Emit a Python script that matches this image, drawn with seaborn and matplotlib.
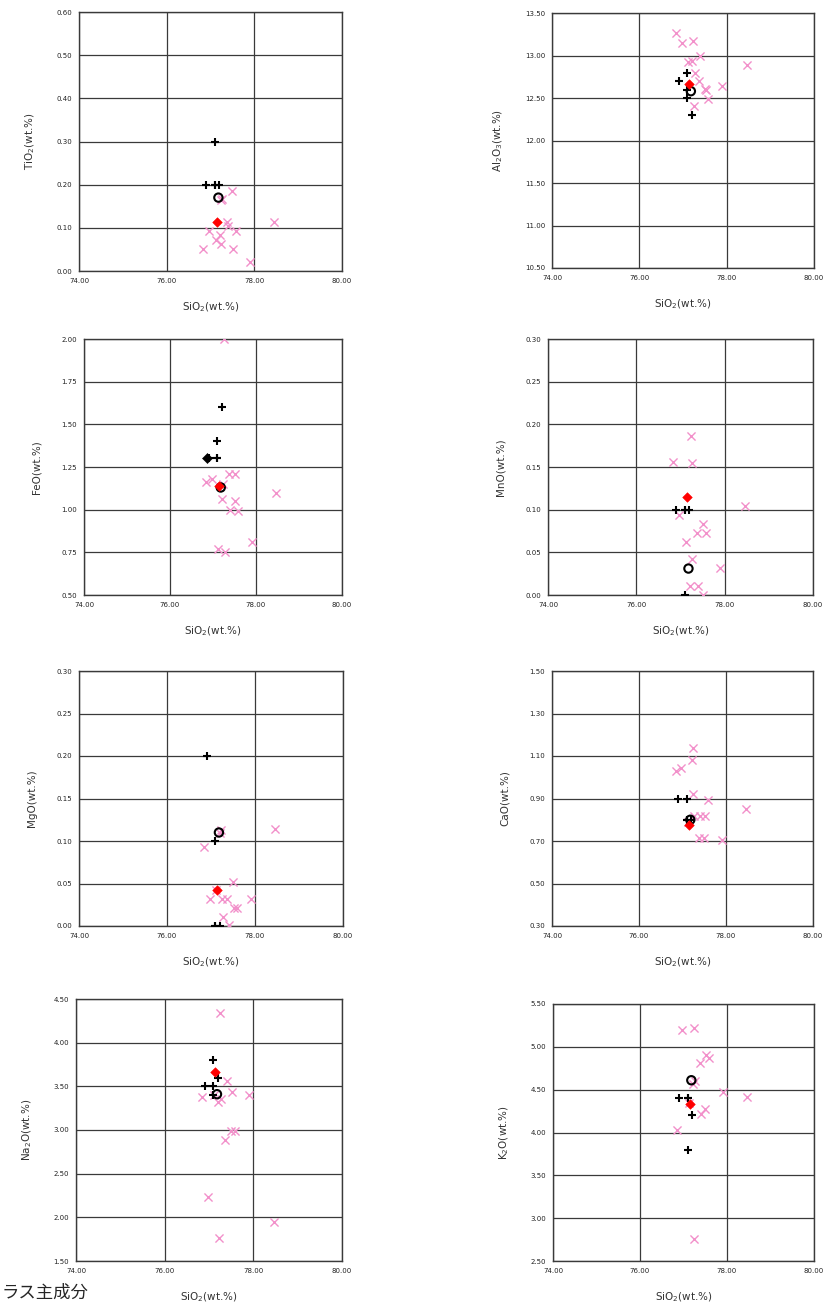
import matplotlib
matplotlib.use("Agg")
import matplotlib.pyplot as plt
import seaborn as sns

# glass shard analyses (pink x), one SiO2 per shard
glass_sio2 = [76.84, 76.97, 77.12, 77.21, 77.23, 77.25, 77.27, 77.37, 77.40, 77.50, 77.52, 77.58, 77.90, 78.46]
glass_tio2 = [0.052, 0.093, 0.072, 0.083, 0.062, 0.165, 0.167, 0.114, 0.104, 0.185, 0.052, 0.093, 0.020, 0.113]
glass_al2o3 = [13.27, 13.15, 12.92, 12.93, 13.17, 12.41, 12.79, 12.70, 13.00, 12.61, 12.59, 12.49, 12.64, 12.89]
glass_feo = [1.16, 1.18, 0.77, 1.065, 1.15, 2.00, 0.75, 1.21, 1.00, 1.21, 1.05, 0.99, 0.81, 1.10]
glass_mno = [0.156, 0.094, 0.062, 0.011, 0.186, 0.042, 0.155, 0.073, 0.011, 0.000, 0.083, 0.073, 0.032, 0.104]
glass_mgo = [0.093, 0.032, 0.042, 0.110, 0.113, 0.032, 0.011, 0.032, 0.001, 0.052, 0.021, 0.021, 0.032, 0.114]
glass_cao = [1.03, 1.045, 0.79, 1.08, 1.136, 0.92, 0.82, 0.714, 0.82, 0.714, 0.82, 0.895, 0.706, 0.85]
glass_na2o = [3.38, 2.23, 3.40, 3.32, 1.76, 4.34, 3.35, 2.88, 3.56, 2.99, 3.43, 2.99, 3.40, 1.95]
glass_k2o = [4.03, 5.20, 4.35, 4.57, 5.22, 2.76, 4.60, 4.81, 4.22, 4.27, 4.90, 4.87, 4.47, 4.41]

# reference analyses (black +)
ref_sio2 = [76.9, 77.1, 77.1, 77.2, 77.1]
ref_tio2 = [0.2, 0.3, 0.2, 0.2, 0.2]
ref_al2o3 = [12.7, 12.8, 12.5, 12.3, 12.6]
ref_feo = [1.3, 1.4, 1.3, 1.6, 1.3]
ref_mno = [0.1, 0.1, 0.0, 0.1, 0.1]
ref_mgo = [0.2, 0.1, 0.0, 0.0, 0.0]
ref_cao = [0.9, 0.9, 0.8, 0.8, 0.8]
ref_na2o = [3.5, 3.8, 3.5, 3.6, 3.4]
ref_k2o = [4.4, 4.4, 3.8, 4.2, 4.4]

# black diamond seen only on the FeO plot
dark_sio2 = [76.87]
dark_feo = [1.30]

# open circle and red diamond (averages), order TiO2 .. K2O
avg_sio2 = 77.18
avg_oxides = [0.17, 12.58, 1.13, 0.031, 0.11, 0.80, 3.41, 4.61]
mean_sio2 = 77.14
mean_oxides = [0.114, 12.67, 1.14, 0.115, 0.042, 0.776, 3.66, 4.33]

oxide_labels = ["TiO$_2$(wt.%)", "Al$_2$O$_3$(wt.%)", "FeO(wt.%)", "MnO(wt.%)",
                "MgO(wt.%)", "CaO(wt.%)", "Na$_2$O(wt.%)", "K$_2$O(wt.%)"]
y_ticks = [[0.0, 0.1, 0.2, 0.3, 0.4, 0.5, 0.6],
           [10.5, 11.0, 11.5, 12.0, 12.5, 13.0, 13.5],
           [0.5, 0.75, 1.0, 1.25, 1.5, 1.75, 2.0],
           [0.0, 0.05, 0.1, 0.15, 0.2, 0.25, 0.3],
           [0.0, 0.05, 0.1, 0.15, 0.2, 0.25, 0.3],
           [0.3, 0.5, 0.7, 0.9, 1.1, 1.3, 1.5],
           [1.5, 2.0, 2.5, 3.0, 3.5, 4.0, 4.5],
           [2.5, 3.0, 3.5, 4.0, 4.5, 5.0, 5.5]]
x_ticks = [74, 76, 78, 80]

glass_sets = [glass_tio2, glass_al2o3, glass_feo, glass_mno, glass_mgo, glass_cao, glass_na2o, glass_k2o]
ref_sets = [ref_tio2, ref_al2o3, ref_feo, ref_mno, ref_mgo, ref_cao, ref_na2o, ref_k2o]

sns.set_style("white")
plt.rcParams["font.family"] = ["DejaVu Sans", "Noto Sans CJK JP"]

W, H = 828, 1303
fig = plt.figure(figsize=(W / 100, H / 100), dpi=100)

# axes boxes in pixels: x0, x1, y0 (top), y1 (bottom)
boxes = [(79, 342, 12, 271), (552, 814, 13, 268),
         (84, 342, 339, 595), (548, 813, 339, 595),
         (79, 343, 671, 926), (552, 813, 671, 926),
         (76, 342, 999, 1261), (553, 814, 1004, 1261)]

pink = "#F290CA"
gridc = "#3a3a3a"

for i in range(8):
    x0, x1, y0, y1 = boxes[i]
    ax = fig.add_axes([x0 / W, 1 - y1 / H, (x1 - x0) / W, (y1 - y0) / H])

    sns.scatterplot(x=glass_sio2, y=glass_sets[i], marker="x", color=pink, s=34,
                    linewidth=1.0, ax=ax, zorder=3)
    sns.scatterplot(x=ref_sio2, y=ref_sets[i], marker="+", color="black", s=32,
                    linewidth=1.5, ax=ax, zorder=4)
    if i == 2:
        sns.scatterplot(x=dark_sio2, y=dark_feo, marker="D", color="black", s=26,
                        edgecolor="black", ax=ax, zorder=4)
    sns.scatterplot(x=[avg_sio2], y=[avg_oxides[i]], marker="o", s=36,
                    facecolor="none", edgecolor="black", linewidth=1.5, ax=ax, zorder=5)
    sns.scatterplot(x=[mean_sio2], y=[mean_oxides[i]], marker="D", color="red", s=24,
                    edgecolor="red", ax=ax, zorder=5)

    yt = y_ticks[i]
    ax.set_xlim(74, 80)
    ax.set_ylim(yt[0], yt[-1])
    ax.set_xticks(x_ticks)
    ax.set_xticklabels([f"{v:.2f}" for v in x_ticks])
    ax.set_yticks(yt)
    ax.set_yticklabels([f"{v:.2f}" for v in yt])
    ax.tick_params(length=0, labelsize=5, pad=5, colors="#222222")
    ax.grid(True, color=gridc, linewidth=0.9)
    ax.set_axisbelow(True)
    for sp in ax.spines.values():
        sp.set_color(gridc)
        sp.set_linewidth(1.0)
    ax.set_xlabel("SiO$_2$(wt.%)", fontsize=7.5, labelpad=12, color="#333333")
    ax.set_ylabel(oxide_labels[i], fontsize=7.5, labelpad=14, color="#333333")

fig.text(0.002, 1 - 1284 / H, "ラス主成分", fontsize=12.5, va="top", ha="left",
         family=["Noto Sans CJK JP", "DejaVu Sans"])

fig.savefig("out.png", dpi=100)
